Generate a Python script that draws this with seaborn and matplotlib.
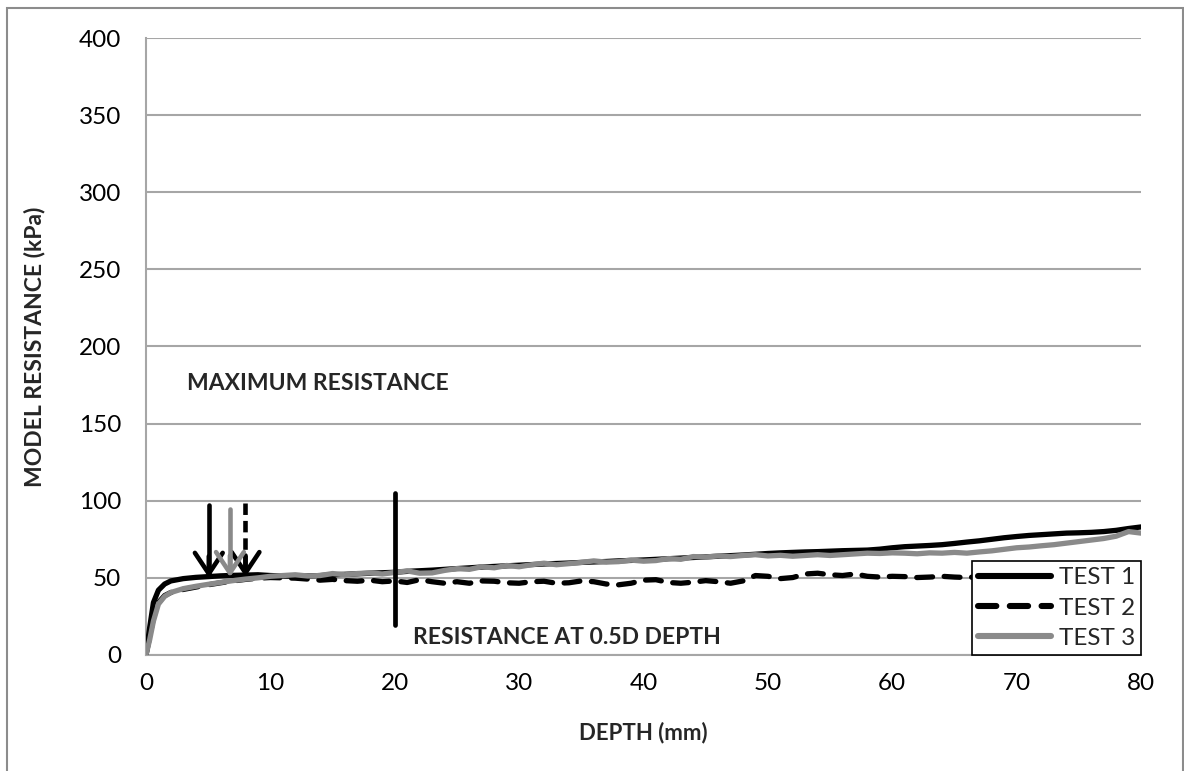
import matplotlib
matplotlib.use("Agg")
import matplotlib.pyplot as plt
import matplotlib.patches as mpatches
import seaborn as sns
import pandas as pd

# Penetration depth (mm)
depth = [0, 0.3, 0.6, 1, 1.5, 2] + list(range(3, 81))

test1 = [0, 18, 34, 42, 46, 48,
         49.5, 50.3, 50.8, 51.3, 51.6, 51.8, 52, 51.5, 51.2, 51,
         51.2, 51.5, 52, 52.3, 52.6, 53, 53.3, 53.6, 54.2, 54.6,
         55, 55.5, 56, 56.5, 57, 57.4, 57.8, 58.2, 58.6, 59,
         59.3, 59.6, 60, 60.3, 60.6, 61, 61.3, 61.6, 62, 62.4,
         62.8, 63.2, 63.6, 64, 64.4, 64.8, 65.3, 65.8, 66.2, 66.5,
         66.8, 67, 67.3, 67.6, 67.8, 68, 68.6, 69.5, 70.2, 70.6,
         71, 71.5, 72.3, 73.2, 74, 75, 76, 76.8, 77.5, 78,
         78.5, 79, 79.2, 79.5, 80, 80.8, 82, 83]

test2 = [0, 12, 24, 34, 38.5, 40.5,
         42.5, 44, 45.5, 46.8, 48, 49, 49.8, 50.2, 50, 49.8,
         49.2, 48.5, 49, 48.2, 47.8, 48.5, 47.5, 48, 47, 48.8,
         47.5, 46.5, 47.5, 46.5, 48, 47.8, 46.8, 46.5, 47.5, 47.8,
         46.5, 46.8, 48, 47.5, 46, 45.5, 46.5, 48.5, 48.8, 47,
         46.5, 47.2, 48.2, 47.5, 46.5, 48, 51.5, 51, 49.5, 50.2,
         52.5, 53, 52, 51.5, 52.5, 51, 50.5, 51, 50.8, 50.2,
         50.5, 51, 50.5, 50.2, 50.8, 51, 50.5, 50.8, 51.2, 51,
         51.5, 51.8, 51.5, 52, 52.2, 52, 52.5, 52.5]

test3 = [0, 10, 22, 33, 38, 40.5,
         43, 44.5, 45.8, 47, 48.2, 49.2, 50, 51, 51.5, 52,
         51.2, 51.5, 52.8, 52, 52.8, 53.2, 52.5, 53.5, 54.5, 53,
         53.2, 54.8, 56, 55.5, 57.2, 56.5, 58, 57.2, 58.5, 59.5,
         58.5, 59.2, 60, 61, 60.2, 60.5, 61.5, 60.8, 61.2, 62.5,
         62, 63.8, 63.5, 64.2, 63.8, 64.5, 65, 64.2, 64.6, 64,
         64.5, 65, 64.5, 65, 65.5, 66, 65.8, 66.2, 66, 65.6,
         66.2, 66, 66.5, 66, 66.8, 67.5, 68.5, 69.5, 70, 70.8,
         71.5, 72.5, 73.5, 74.5, 75.5, 77, 80, 79]

series_names = ["TEST 1", "TEST 2", "TEST 3"]

# Markers for the maximum resistance of each test: depth, arrow top, arrow tip
max_depth = [5.05, 8.0, 6.75]
max_top = [97, 98.5, 94.5]
max_tip = [50, 50.5, 50.5]

# Resistance at 0.5D depth marker
half_d_depth = 20
half_d_range = [19.5, 105]

x_ticks = list(range(0, 81, 10))
y_ticks = list(range(0, 401, 50))

sns.set_theme(style="white")
plt.rcParams["font.family"] = ["Lato", "DejaVu Sans"]

fig = plt.figure(figsize=(11.84, 7.71), dpi=100)
ax = fig.add_axes([0.1233, 0.1505, 0.8404, 0.8002])

grid_color = "#a6a6a6"
gray = "#8a8a8a"
lw = 3.8

df = pd.DataFrame({"depth": depth, "TEST 1": test1, "TEST 2": test2, "TEST 3": test3})

sns.lineplot(data=df, x="depth", y="TEST 1", ax=ax, color="black", lw=lw,
             label=series_names[0], solid_capstyle="round", zorder=3)
sns.lineplot(data=df, x="depth", y="TEST 2", ax=ax, color="black", lw=lw,
             label=series_names[1], zorder=4)
sns.lineplot(data=df, x="depth", y="TEST 3", ax=ax, color=gray, lw=lw,
             label=series_names[2], zorder=5)
ax.lines[1].set_linestyle((0, (3.0, 2.2)))
ax.lines[1].set_dash_capstyle("round")

# Maximum-resistance arrows
styles = [("black", "-"), ("black", "--"), (gray, "-")]
for (c, ls), xd, yt, yp in zip(styles, max_depth, max_top, max_tip):
    ax.plot([xd, xd], [yt, yp + 3], color=c, lw=3.3,
            linestyle="-" if ls == "-" else (0, (2.5, 1.3)), zorder=6)
    ax.annotate("", xy=(xd, yp), xytext=(xd, yp + 14),
                arrowprops=dict(arrowstyle="->,head_length=0.75,head_width=0.5",
                                color=c, lw=3.3, mutation_scale=20, shrinkA=0, shrinkB=0),
                zorder=6)

ax.plot([half_d_depth, half_d_depth], half_d_range, color="black", lw=3.4, zorder=6)

ax.text(3.3, 176, "MAXIMUM RESISTANCE", fontsize=16.5, fontweight="bold", va="center", ha="left")
ax.text(21.5, 11, "RESISTANCE AT 0.5D DEPTH", fontsize=16.5, fontweight="bold", va="center", ha="left")

ax.set_xlim(0, 80)
ax.set_ylim(0, 400)
ax.set_xticks(x_ticks)
ax.set_yticks(y_ticks)
ax.tick_params(axis="y", labelsize=17.5, length=0, pad=18, colors="black")
ax.tick_params(axis="x", labelsize=17.5, length=0, pad=13, colors="black")
ax.grid(axis="y", color=grid_color, lw=1.5)
ax.set_axisbelow(True)
for s in ["top", "right"]:
    ax.spines[s].set_visible(False)
for s in ["left", "bottom"]:
    ax.spines[s].set_color(grid_color)
    ax.spines[s].set_linewidth(1.5)

ax.set_xlabel("DEPTH (mm)", fontsize=16, fontweight="bold", labelpad=20)
ax.set_ylabel("MODEL RESISTANCE (kPa)", fontsize=16.5, fontweight="bold", labelpad=24)

leg = ax.legend(loc="lower right", bbox_to_anchor=(1.0, 0.0), fontsize=17.5, frameon=True,
                fancybox=False, framealpha=1, handlelength=3.0, handletextpad=0.3,
                borderpad=0.25, labelspacing=0.38, borderaxespad=0)
leg.get_frame().set_edgecolor("black")
leg.get_frame().set_facecolor("white")
leg.get_frame().set_linewidth(1.2)
leg.set_zorder(10)
for h in leg.get_lines():
    h.set_linewidth(lw + 0.6)

# Chart-area border
fig.patches.append(mpatches.Rectangle((7 / 1184, -0.01), 1175.5 / 1184, 1 - 8 / 771 + 0.01,
                                      transform=fig.transFigure, fill=False,
                                      edgecolor="#8c8c8c", lw=1.5))

fig.savefig("out.png", dpi=100)
